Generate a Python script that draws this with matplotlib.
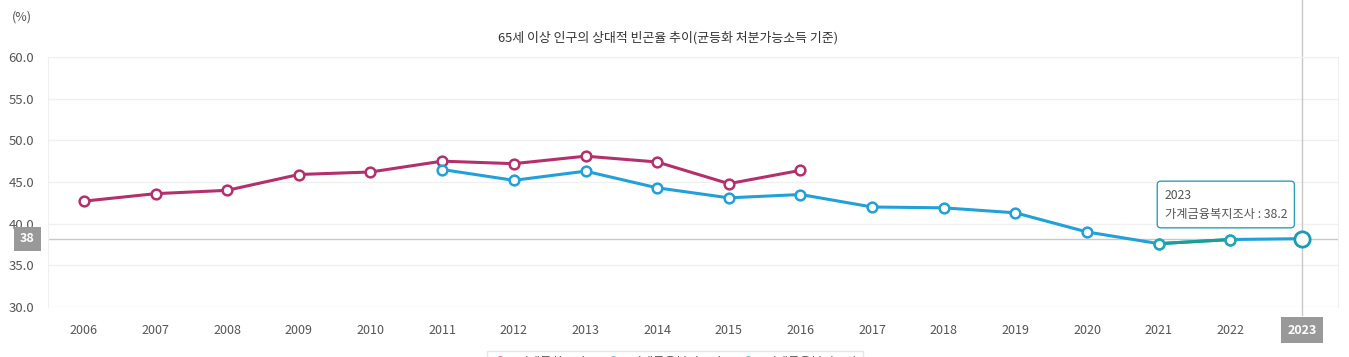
import numpy as np
from matplotlib import pyplot as plt

plt.rcParams['font.family'] = ['Noto Sans CJK KR', 'DejaVu Sans']

years = list(range(2006, 2024))
# 가계동향조사 (2006-2016)
hhtrend_years = list(range(2006, 2017))
hhtrend_vals = [42.7, 43.6, 44.0, 45.9, 46.2, 47.5, 47.2, 48.1, 47.4, 44.8, 46.4]
# 가계금융복지조사 (2011-2023)
fin_years = list(range(2011, 2024))
fin_vals = [46.5, 45.2, 46.3, 44.3, 43.1, 43.5, 42.0, 41.9, 41.3, 39.0, 37.6, 38.1, 38.2]
# 가계금융복지조사 (2021-2022)
fin2_years = [2021, 2022]
fin2_vals = [37.6, 38.1]

title = '65세 이상 인구의 상대적 빈곤율 추이(균등화 처분가능소득 기준)'
labels = ['가계동향조사', '가계금융복지조사', '가계금융복지조사']

c_mag = '#b3306d'
c_blue = '#22a0d8'
c_green = '#1a9e95'

fig = plt.figure(figsize=(13.49, 3.57), dpi=100)
ax = fig.add_axes([48/1349, 1-307/357, 1290/1349, 250/357])

def idx(ys):
    return [years.index(y) for y in ys]

mk = dict(marker='o', markerfacecolor='white', markersize=7, markeredgewidth=1.8, lw=2.2)
ax.plot(idx(hhtrend_years), hhtrend_vals, color=c_mag, label=labels[0], zorder=3, **mk)
ax.plot(idx(fin_years), fin_vals, color=c_blue, label=labels[1], zorder=3, **mk)
ax.plot(idx(fin2_years), fin2_vals, color=c_green, label=labels[2], zorder=4,
        markeredgecolor='#20a7b5', **mk)

# hover marker on last point
ax.plot(idx([2023]), [fin_vals[-1]], marker='o', markersize=11, markerfacecolor='white',
        markeredgecolor='#1b9bb5', markeredgewidth=2, zorder=5, ls='none')

ax.set_xlim(-0.5, len(years) - 0.5)
ax.set_ylim(30, 60)
ax.set_yticks(np.arange(30, 61, 5))
ax.set_yticklabels([f'{v:.1f}' for v in np.arange(30, 61, 5)])
ax.set_xticks(range(len(years)))
ax.set_xticklabels([str(y) for y in years])
ax.tick_params(length=0, labelsize=9, labelcolor='#555555', pad=12)
ax.tick_params(axis='y', labelsize=9.5, pad=10)
ax.grid(axis='y', color='#f0f0f0', lw=1)
ax.set_axisbelow(True)
for s in ['left', 'top', 'right']:
    ax.spines[s].set_color('#f0f0f0')
ax.spines['bottom'].set_visible(False)

last = ax.get_xticklabels()[-1]
last.set_color('white')
last.set_fontweight('bold')
last.set_bbox(dict(facecolor='#999999', edgecolor='none', boxstyle='square,pad=0.5'))

# crosshair
ax.axhline(fin_vals[-1], color='#c8c8c8', lw=1, zorder=2)
ax.axvline(years.index(2023), ymin=-0.03, ymax=1 + 57/250, color='#c8c8c8', lw=1,
           clip_on=False, zorder=2)
fig.text(27.5/1349, 1-239/357, '38', color='white', fontsize=9, fontweight='bold',
         ha='center', va='center',
         bbox=dict(facecolor='#999999', edgecolor='none', boxstyle='square,pad=0.45'))

# tooltip
ax.text(15.08, 42.3, '2023\n가계금융복지조사 : 38.2', fontsize=8.8, color='#555555',
        ha='left', va='center', linespacing=1.6, zorder=6,
        bbox=dict(facecolor='white', edgecolor='#2aa0b8', boxstyle='round,pad=0.6,rounding_size=0.3'))

fig.text(668/1349, 1-38/357, title, ha='center', va='center', fontsize=9.3, color='#333333')
fig.text(12/1349, 1-17/357, '(%)', ha='left', va='center', fontsize=9, color='#555555')

leg = fig.legend(loc='upper center', bbox_to_anchor=(675/1349, 1-345/357), ncol=3,
                 fontsize=9, frameon=True, edgecolor='#e0e0e0', fancybox=False,
                 handlelength=1.2, columnspacing=1.5, labelcolor='#555555')

fig.savefig('out.png', dpi=100)
